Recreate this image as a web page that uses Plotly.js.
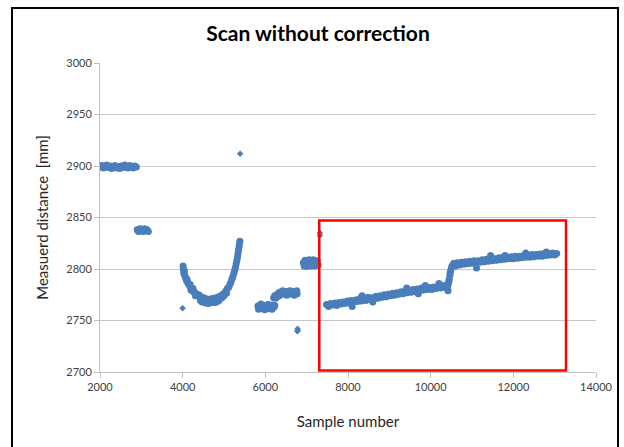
<!DOCTYPE html>
<html>
<head>
<meta charset="utf-8">
<script src="https://cdn.plot.ly/plotly-3.0.1.min.js"></script>
<style>
  html, body { margin: 0; padding: 0; background: #fff; }
  #wrap { position: relative; width: 624px; height: 447px; overflow: hidden; }
  #chart { position: absolute; left: 0; top: 0; width: 624px; height: 447px; }
  #frame { position: absolute; left: 11px; top: 7px; width: 604px; height: 460px;
           border-left: 2px solid #000; border-top: 2px solid #000; border-right: 2px solid #000;
           pointer-events: none; }
</style>
</head>
<body>
<div id="wrap">
  <div id="chart"></div>
  <div id="frame"></div>
</div>
<script>
const seg1X = [2000,2040,2080,2120,2160,2200,2240,2280,2320,2360,2400,2440,2480,2520,2560,2600,2640,2680,2720,2760,2800,2840,2880];
const seg1Y = [2899,2900.5,2898,2899.5,2901,2898.5,2900,2897.5,2899,2900.5,2898,2899.5,2897.5,2900,2898.5,2901,2899,2898,2900.5,2899.5,2898,2900,2899];

const seg2X = [2900,2930,2960,2990,3020,3050,3080,3110,3140,3170];
const seg2Y = [2838,2836.5,2839,2837,2838.5,2836.5,2839,2837.5,2838,2836.5];

const isolatedX = [3998,5390,6775,6780,6785,7320,7320];
const isolatedY = [2762,2912,2739.5,2742,2740.5,2832.5,2835];

const curveX = [4010,4015,4025,4035,4045,4060,4075,4090,4105,4120,4140,4160,4180,4200,4225,4250,4275,4300,4330,4360,4390,4420,4450,4480,4510,4540,4570,4600,4630,4660,4690,4720,4750,4780,4810,4840,4870,4900,4930,4960,4990,5020,5050,5080,5110,5140,5165,5190,5210,5230,5250,5265,5280,5295,5310,5325,5335,5345,5355,5365,5375,5385,
                4430,4470,4520,4560,4610,4650,4700,4740,4790,4840,4880,4310,4260,4200,4950,5000,5060];
const curveY = [2803,2800,2797,2795,2798,2793,2791,2789,2790,2787,2786,2784,2785,2782,2780,2781,2778,2777,2776,2774,2775,2772,2773,2771,2772,2770,2771,2769,2770.5,2769,2771,2770,2771.5,2770,2772,2771,2773,2772,2774,2775,2776,2777,2779,2781,2782,2785,2787,2790,2792,2795,2797,2800,2802,2805,2808,2811,2814,2817,2819,2822,2825,2827,
                2769.5,2768,2767.5,2767,2766.5,2767,2767.5,2768,2767.5,2768.5,2769.5,2774,2778,2779.5,2772,2774,2776.5];

const seg6X = [5820,5850,5880,5910,5940,5970,6000,6030,6060,6090,6120,6150,6180,6210,6230,5835,5895,5985,6075,6165];
const seg6Y = [2764,2762,2765,2763,2761.5,2764.5,2762.5,2765,2763,2761.5,2764,2762.5,2765,2763,2764.5,2761,2766,2760.5,2765.5,2761];

const seg7X = [6200,6225,6250,6275,6300,6325,6350,6380,6410,6440,6470,6500,6530,6560,6590,6620,6650,6680,6710,6740,6770,6340,6420,6520,6600,6700,6760];
const seg7Y = [2772,2774,2771.5,2775,2773.5,2777,2775.5,2778,2776,2777.5,2775.5,2778,2776.5,2778.5,2776,2777.5,2775.5,2778,2776.5,2778,2776,2774,2779,2774.5,2779,2774.5,2779];

const seg9X = [6920,6940,6960,6980,7000,7020,7040,7060,7080,7100,7120,7140,7160,7180,7200,7220,7240,7260,7280];
const seg9Y = [2806,2803,2808.5,2805,2802.5,2807.5,2804,2809,2805.5,2803,2807,2804.5,2809,2806,2803,2807.5,2805,2808,2804];

const seg11X = [7480,7530,7580,7630,7680,7730,7780,7830,7880,7930,7980,8030,8080,8130,8180,8230,8280,8330,8380,8430,8480,8530,8580,8630,8680,8730,8780,8830,8880,8930,8980,9030,9080,9130,9180,9230,9280,9330,9380,9430,9480,9530,9580,9630,9680,9730,9780,9830,9880,9930,9980,10030,10080,10130,10180,10230,10280,10330,10380,10410,
                8340,9420,9870,10200,8100,8600,9700];
const seg11Y = [2765.5,2763.5,2766.5,2765,2767,2764.5,2767.5,2766,2768,2766.5,2769,2767,2769.5,2768,2770,2768.5,2771,2769,2771.5,2769.5,2772.5,2770.5,2772,2771,2773.5,2771.5,2774,2772.5,2775,2773,2775.5,2774,2776.5,2774.5,2777,2775.5,2778,2776,2778.5,2777,2779.5,2777.5,2780,2778,2780.5,2779,2781.5,2779.5,2781,2780,2782,2780,2782.5,2781,2783,2781.5,2784,2782,2784.5,2782.5,
                2774,2781.5,2784,2786,2763.5,2768,2776];

const stepX = [10420,10430,10440,10450,10465,10470,10480,10495,10510];
const stepY = [2779,2786,2788,2790,2794,2796,2797.5,2800,2802.5];

const seg13X = [10530,10560,10600,10650,10700,10750,10800,10850,10900,10950,11000,11050,11100,11150,11200,11250,11300,11350,11400,11450,11500,11550,11600,11650,11700,11750,11800,11850,11900,11950,12000,12050,12100,12150,12200,12250,12300,12350,12400,12450,12500,12550,12600,12650,12700,12750,12800,12850,12900,12950,13000,13050,
                11110,11450,12300,12800,11800];
const seg13Y = [2803.5,2805.5,2803,2806,2804,2806.5,2804.5,2807,2805,2807.5,2805.5,2808,2806,2808,2806.5,2809,2807,2809.5,2807.5,2810,2808,2810,2808.5,2811,2809,2811.5,2809.5,2811.5,2810,2812,2810,2812.5,2810.5,2812.5,2811,2813,2811.5,2813.5,2811.5,2814,2812,2814,2812.5,2814.5,2812.5,2815,2813,2815,2813.5,2815.5,2813.5,2815,
                2801,2813,2815.5,2816.5,2813];

const highlightBoxX = [7305, 13275];
const highlightBoxY = [2701.5, 2847];

const xTickVals = [2000,4000,6000,8000,10000,12000,14000];
const xTickText = ['2000','4000','6000','8000','10000','12000','14000'];
const yTickVals = [2700,2750,2800,2850,2900,2950,3000];

const bandX = [].concat(seg1X, seg2X, curveX, seg6X, seg7X, seg9X, seg11X, stepX, seg13X);
const bandY = [].concat(seg1Y, seg2Y, curveY, seg6Y, seg7Y, seg9Y, seg11Y, stepY, seg13Y);

const FONT = 'Lato, "Open Sans", "DejaVu Sans", sans-serif';
const BLUE = '#4a7ebb';

const traces = [
  {
    type: 'scatter', mode: 'markers',
    x: bandX, y: bandY,
    marker: { symbol: 'circle', size: 7, color: BLUE, line: { width: 0 } },
    showlegend: false
  },
  {
    type: 'scatter', mode: 'markers',
    x: isolatedX, y: isolatedY,
    marker: { symbol: 'diamond', size: 5, color: BLUE, line: { width: 0 } },
    showlegend: false
  }
];

const layout = {
  width: 624,
  height: 447,
  margin: { l: 100, r: 28, t: 63, b: 75, pad: 0 },
  paper_bgcolor: '#ffffff',
  plot_bgcolor: '#ffffff',
  font: { family: FONT, color: '#404040', size: 11 },
  title: {
    text: '<b>Scan without correction</b>',
    font: { family: FONT, size: 21, color: '#000000' },
    x: 318 / 624, xref: 'container', xanchor: 'center',
    y: 1 - 34 / 447, yref: 'container', yanchor: 'middle'
  },
  xaxis: {
    range: [2000, 14000],
    tickvals: xTickVals,
    ticktext: xTickText,
    showgrid: false,
    zeroline: false,
    showline: true, linecolor: '#bfbfbf', linewidth: 1,
    ticks: 'outside', ticklen: 5, tickcolor: '#bfbfbf', tickwidth: 1,
    tickfont: { family: FONT, size: 11, color: '#404040' },
    title: { text: 'Sample number', font: { family: FONT, size: 15, color: '#262626' }, standoff: 24 }
  },
  yaxis: {
    range: [2700, 3000],
    tickvals: yTickVals,
    showgrid: true, gridcolor: '#c8c8c8', gridwidth: 1,
    zeroline: false,
    showline: true, linecolor: '#bfbfbf', linewidth: 1,
    ticks: 'outside', ticklen: 5, tickcolor: '#bfbfbf', tickwidth: 1,
    tickfont: { family: FONT, size: 11, color: '#404040' },
    title: { text: 'Measuerd distance\u00a0 [mm]', font: { family: FONT, size: 15, color: '#262626' }, standoff: 14 }
  },
  shapes: [{
    type: 'rect', xref: 'x', yref: 'y',
    x0: highlightBoxX[0], x1: highlightBoxX[1], y0: highlightBoxY[0], y1: highlightBoxY[1],
    line: { color: '#ff0000', width: 2.5 }, fillcolor: 'rgba(0,0,0,0)', layer: 'above'
  }]
};

Plotly.newPlot('chart', traces, layout, { displayModeBar: false, staticPlot: true });
</script>
</body>
</html>
